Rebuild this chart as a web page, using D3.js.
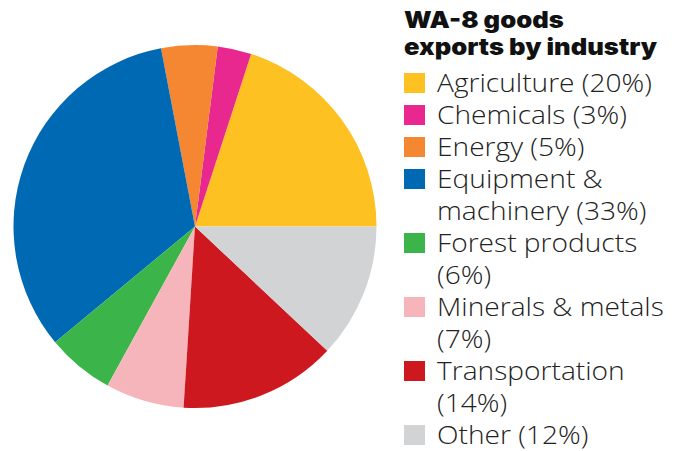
<!DOCTYPE html>
<html><head><meta charset="utf-8">
<script src="https://cdn.jsdelivr.net/npm/d3@7"></script>
<style>body{margin:0;background:#fff}svg{display:block}</style>
</head><body>
<svg id="c" width="675" height="451"></svg>
<script>
const categories = ["Agriculture","Chemicals","Energy","Equipment & machinery","Forest products","Minerals & metals","Transportation","Other"];
const values = [20,3,5,33,6,7,14,12];
const colors = ["#FDC121","#E8278F","#F58632","#0069B4","#3BB54A","#F6B5BA","#CE1820","#D1D3D4"];
const legendLines = [["Agriculture (20%)"],["Chemicals (3%)"],["Energy (5%)"],["Equipment &","machinery (33%)"],["Forest products","(6%)"],["Minerals & metals","(7%)"],["Transportation","(14%)"],["Other (12%)"]];
const titleLines = ["WA-8 goods","exports by industry"];

const svg = d3.select("#c");
const cx = 195, cy = 226.5, r = 181.5;
const data = categories.map((c,i)=>({c, v: values[i], col: colors[i], lines: legendLines[i]}));
const pie = d3.pie().sort(null).value(d=>d.v).startAngle(Math.PI/2).endAngle(Math.PI/2 - 2*Math.PI);
const arc = d3.arc().innerRadius(0).outerRadius(r);
svg.append("g").attr("transform",`translate(${cx},${cy})`)
  .selectAll("path").data(pie(data)).join("path")
  .attr("d",arc).attr("fill",d=>d.data.col);

const lg = svg.append("g");
// title
const tg = lg.append("g");
const tt = tg.selectAll("text").data(titleLines).join("text")
  .attr("x",0).attr("y",(d,i)=>i*27)
  .attr("font-family","Inter").attr("font-weight",900).attr("font-size",23)
  .attr("fill","#111").text(d=>d);
const tw = tt.nodes()[1].getComputedTextLength();
const tsx = 253 / tw;
tg.attr("transform",`translate(404,28) scale(${tsx},1)`);

let line = 0;
const x0 = 437, y0 = 92, lh = 32;
const itemG = lg.append("g");
data.forEach(d=>{
  const y = y0 + line*lh;
  lg.append("rect").attr("x",404).attr("y",y-19).attr("width",21).attr("height",20).attr("fill",d.col);
  d.lines.forEach((t,j)=>{
    itemG.append("text").attr("x",0).attr("y",y+j*lh)
      .attr("font-family","Open Sans").attr("font-weight",300).attr("font-size",25)
      .attr("fill","#222").text(t);
  });
  line += d.lines.length;
});
const lw = itemG.select("text").node().getComputedTextLength();
const lsx = 215 / lw;
itemG.attr("transform",`translate(${x0},0) scale(${lsx},1)`);
</script>
</body></html>
